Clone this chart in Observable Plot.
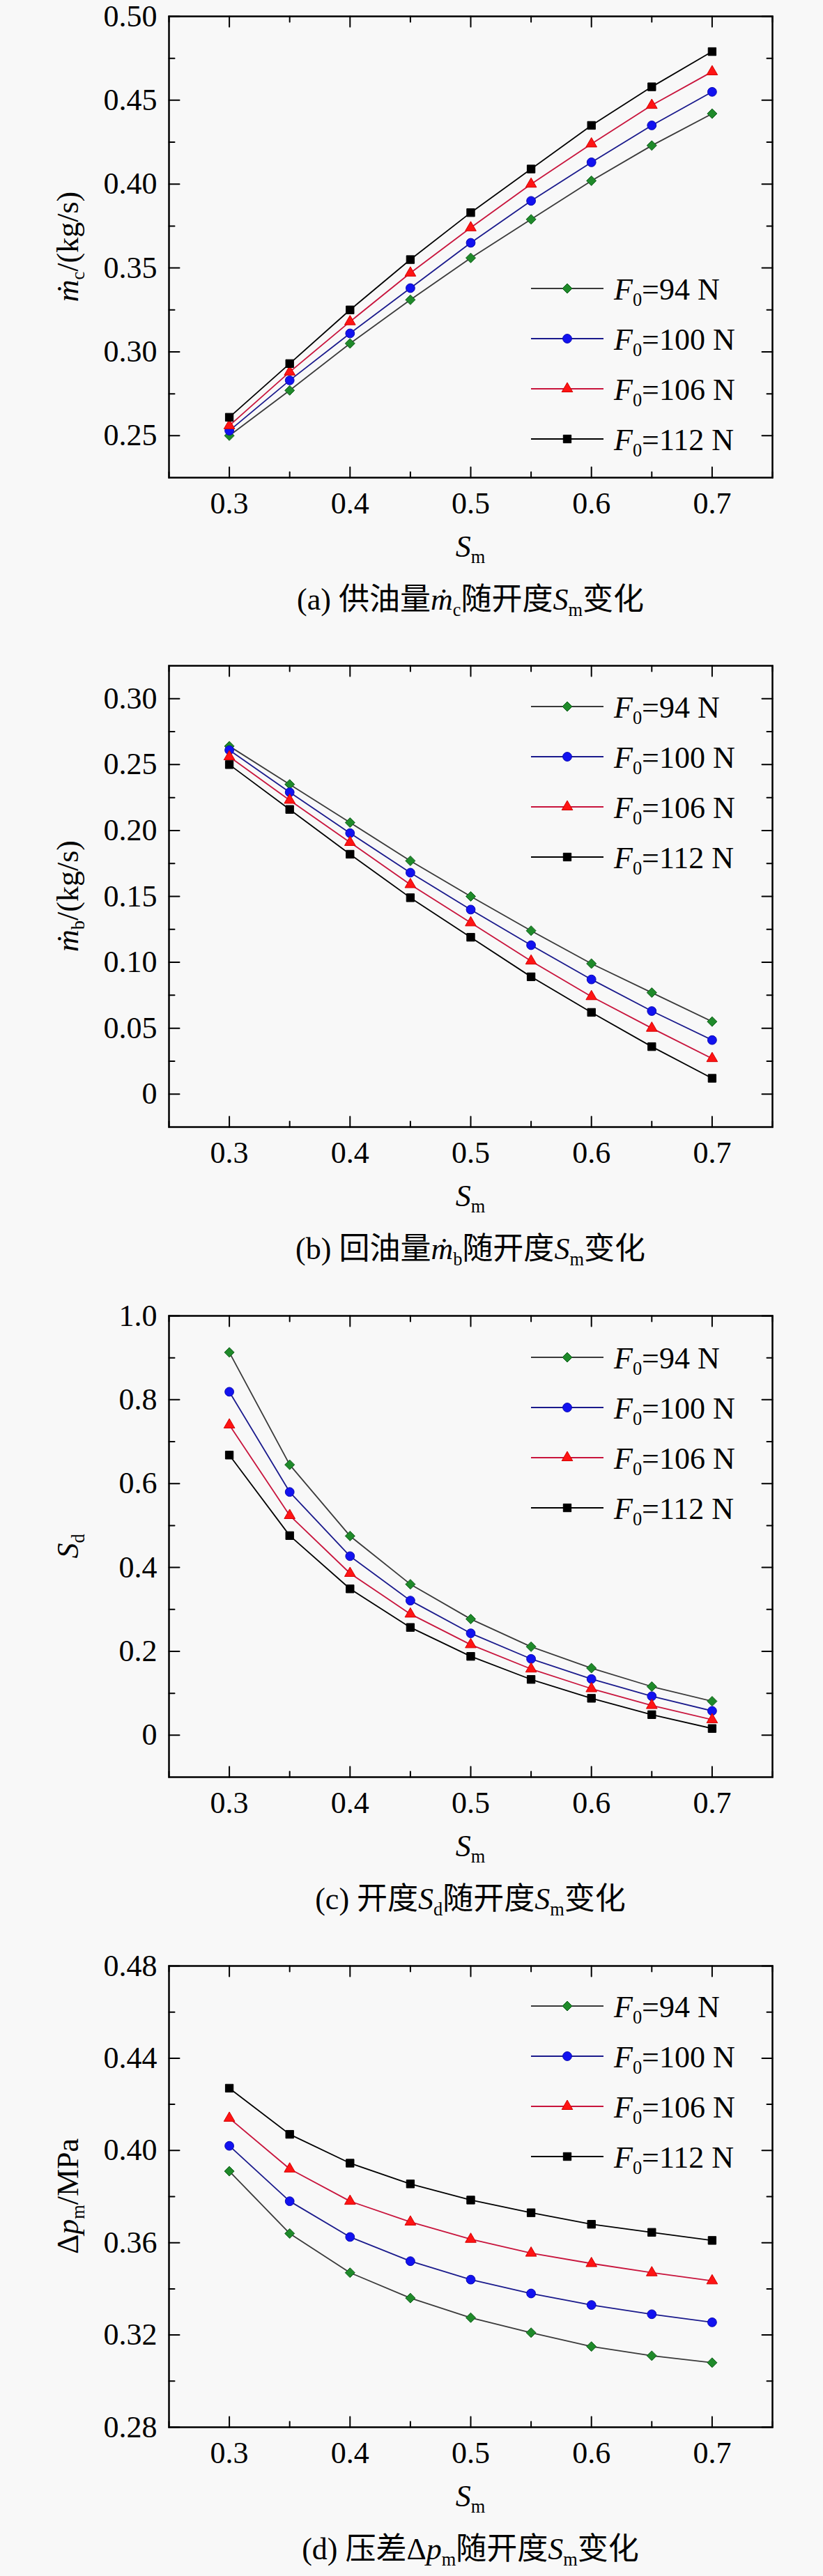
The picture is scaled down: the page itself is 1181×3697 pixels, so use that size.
<!DOCTYPE html>
<html>
<head>
<meta charset="utf-8">
<script src="https://cdn.jsdelivr.net/npm/d3@7"></script>
<script src="https://cdn.jsdelivr.net/npm/@observablehq/plot@0.6"></script>
<style>
  html, body { margin: 0; padding: 0; background: #f8f8f8; }
  svg { display: block; }
</style>
</head>
<body>
<div id="root"></div>
<script>
// ---------- data ----------
const sm = [0.3, 0.35, 0.4, 0.45, 0.5, 0.55, 0.6, 0.65, 0.7];
const forceLabels = ["94", "100", "106", "112"];

// (a) supply flow m_c (kg/s)
const mcF94  = [0.250, 0.277, 0.305, 0.331, 0.356, 0.379, 0.402, 0.423, 0.442];
const mcF100 = [0.253, 0.283, 0.311, 0.338, 0.365, 0.390, 0.413, 0.435, 0.455];
const mcF106 = [0.256, 0.288, 0.318, 0.347, 0.374, 0.400, 0.424, 0.447, 0.467];
const mcF112 = [0.261, 0.293, 0.325, 0.355, 0.383, 0.409, 0.435, 0.458, 0.479];

// (b) return flow m_b (kg/s)
const mbF94  = [0.264, 0.235, 0.206, 0.177, 0.150, 0.124, 0.099, 0.077, 0.055];
const mbF100 = [0.261, 0.229, 0.198, 0.168, 0.140, 0.113, 0.087, 0.063, 0.041];
const mbF106 = [0.256, 0.223, 0.191, 0.159, 0.130, 0.101, 0.074, 0.050, 0.027];
const mbF112 = [0.250, 0.216, 0.182, 0.149, 0.119, 0.089, 0.062, 0.036, 0.012];

// (c) opening S_d
const sdF94  = [0.913, 0.645, 0.475, 0.360, 0.277, 0.211, 0.160, 0.116, 0.081];
const sdF100 = [0.819, 0.580, 0.427, 0.321, 0.243, 0.182, 0.134, 0.093, 0.058];
const sdF106 = [0.740, 0.524, 0.386, 0.289, 0.216, 0.158, 0.111, 0.071, 0.037];
const sdF112 = [0.668, 0.476, 0.349, 0.257, 0.188, 0.133, 0.088, 0.049, 0.016];

// (d) pressure difference Δp_m (MPa)
const dpF94  = [0.391, 0.364, 0.347, 0.336, 0.3275, 0.321, 0.315, 0.311, 0.308];
const dpF100 = [0.402, 0.378, 0.3625, 0.352, 0.344, 0.338, 0.333, 0.329, 0.3255];
const dpF106 = [0.414, 0.392, 0.378, 0.369, 0.3615, 0.3555, 0.351, 0.347, 0.3435];
const dpF112 = [0.427, 0.407, 0.3945, 0.3855, 0.3785, 0.373, 0.368, 0.3645, 0.361];

// ticks
const xDomain = [0.25, 0.75];
const xTicks = [0.3, 0.4, 0.5, 0.6, 0.7];
const xTickLabels = ["0.3", "0.4", "0.5", "0.6", "0.7"];
const xMinor = [0.25, 0.35, 0.45, 0.55, 0.65, 0.75];

const aDomain = [0.225, 0.50];
const aTicks = [0.25, 0.30, 0.35, 0.40, 0.45, 0.50];
const aTickLabels = ["0.25", "0.30", "0.35", "0.40", "0.45", "0.50"];
const aMinor = [0.275, 0.325, 0.375, 0.425, 0.475];

const bDomain = [-0.025, 0.325];
const bTicks = [0, 0.05, 0.10, 0.15, 0.20, 0.25, 0.30];
const bTickLabels = ["0", "0.05", "0.10", "0.15", "0.20", "0.25", "0.30"];
const bMinor = [0.025, 0.075, 0.125, 0.175, 0.225, 0.275];

const cDomain = [-0.1, 1.0];
const cTicks = [0, 0.2, 0.4, 0.6, 0.8, 1.0];
const cTickLabels = ["0", "0.2", "0.4", "0.6", "0.8", "1.0"];
const cMinor = [0.1, 0.3, 0.5, 0.7, 0.9];

const dDomain = [0.28, 0.48];
const dTicks = [0.28, 0.32, 0.36, 0.40, 0.44, 0.48];
const dTickLabels = ["0.28", "0.32", "0.36", "0.40", "0.44", "0.48"];
const dMinor = [0.30, 0.34, 0.38, 0.42, 0.46];

// ---------- styles ----------
const lineColors   = ["#3a3a3a", "#1a1a8c", "#c8143c", "#000000"];
const markerFills  = ["#1f8a2a", "#1212f0", "#ff1414", "#000000"];
const markerStroke = ["#0f5c1a", "#0a0ab4", "#d40000", "#000000"];
const symbols      = ["diamond2", "circle", "triangle", "square"];
const symbolD3     = [d3.symbolDiamond2, d3.symbolCircle, d3.symbolTriangle, d3.symbolSquare];
const radii        = [6.3, 6.4, 5.8, 6.4];

const FONT = "'Liberation Serif','DejaVu Serif','Noto Sans CJK SC',serif";
const FS = 44;
const W = 1181, ML = 242, MR = 73, MT = 23, FH = 662;

const panels = [
  { height: 932, domain: aDomain, ticks: aTicks, labels: aTickLabels, minor: aMinor,
    series: [mcF94, mcF100, mcF106, mcF112], legendTop: 391,
    ylabel: [{t: "ṁ", i: 1}, {t: "c", sub: 1}, {t: "/(kg/s)"}],
    caption: [{t: "(a) 供油量"}, {t: "ṁ", i: 1}, {t: "c", sub: 1}, {t: "随开度"}, {t: "S", i: 1}, {t: "m", sub: 1}, {t: "变化"}] },
  { height: 933, domain: bDomain, ticks: bTicks, labels: bTickLabels, minor: bMinor,
    series: [mbF94, mbF100, mbF106, mbF112], legendTop: 59,
    ylabel: [{t: "ṁ", i: 1}, {t: "b", sub: 1}, {t: "/(kg/s)"}],
    caption: [{t: "(b) 回油量"}, {t: "ṁ", i: 1}, {t: "b", sub: 1}, {t: "随开度"}, {t: "S", i: 1}, {t: "m", sub: 1}, {t: "变化"}] },
  { height: 933, domain: cDomain, ticks: cTicks, labels: cTickLabels, minor: cMinor,
    series: [sdF94, sdF100, sdF106, sdF112], legendTop: 60,
    ylabel: [{t: "S", i: 1}, {t: "d", sub: 1}],
    caption: [{t: "(c) 开度"}, {t: "S", i: 1}, {t: "d", sub: 1}, {t: "随开度"}, {t: "S", i: 1}, {t: "m", sub: 1}, {t: "变化"}] },
  { height: 899, domain: dDomain, ticks: dTicks, labels: dTickLabels, minor: dMinor,
    series: [dpF94, dpF100, dpF106, dpF112], legendTop: 58,
    ylabel: [{t: "Δ"}, {t: "p", i: 1}, {t: "m", sub: 1}, {t: "/MPa"}],
    caption: [{t: "(d) 压差Δ"}, {t: "p", i: 1}, {t: "m", sub: 1}, {t: "随开度"}, {t: "S", i: 1}, {t: "m", sub: 1}, {t: "变化"}] }
];

const tickShape = { draw(ctx, l) { ctx.moveTo(0, 0); ctx.lineTo(0, -l); } };
function vt(data, opts) {
  return Plot.vector(data, { anchor: "start", shape: tickShape, stroke: "#000", strokeWidth: 2, ...opts });
}

function rich(sel, parts, size) {
  let shift = 0;
  parts.forEach(p => {
    const t = sel.append("tspan").text(p.t);
    if (p.i) t.attr("font-style", "italic");
    const want = p.sub ? size * 0.2 : 0;
    const dy = want - shift;
    if (dy) t.attr("dy", dy);
    shift = want;
    if (p.sub) t.attr("font-size", size * 0.6);
  });
}

const root = document.getElementById("root");

panels.forEach(P => {
  const [y0, y1] = P.domain;
  const [x0, x1] = xDomain;
  const marks = [];

  P.series.forEach((vals, k) => {
    const rows = sm.map((s, i) => ({ s, v: vals[i] }));
    marks.push(Plot.line(rows, { x: "s", y: "v", stroke: lineColors[k], strokeWidth: 1.8 }));
    marks.push(Plot.dot(rows, { x: "s", y: "v", symbol: symbols[k], r: radii[k],
      fill: markerFills[k], stroke: markerStroke[k], strokeWidth: 1 }));
  });

  // inward ticks on all four sides
  marks.push(vt(P.ticks, { x: () => x0, y: d => d, rotate: 90, length: 15 }));
  marks.push(vt(P.minor, { x: () => x0, y: d => d, rotate: 90, length: 8 }));
  marks.push(vt(P.ticks, { x: () => x1, y: d => d, rotate: -90, length: 15 }));
  marks.push(vt(P.minor, { x: () => x1, y: d => d, rotate: -90, length: 8 }));
  marks.push(vt(xTicks, { x: d => d, y: () => y0, rotate: 0, length: 15 }));
  marks.push(vt(xMinor, { x: d => d, y: () => y0, rotate: 0, length: 8 }));
  marks.push(vt(xTicks, { x: d => d, y: () => y1, rotate: 180, length: 15 }));
  marks.push(vt(xMinor, { x: d => d, y: () => y1, rotate: 180, length: 8 }));

  marks.push(Plot.axisY(P.ticks, { anchor: "left", tickSize: 0, tickPadding: 17, label: null,
    tickFormat: d => P.labels[P.ticks.indexOf(d)] }));
  marks.push(Plot.axisX(xTicks, { anchor: "bottom", tickSize: 0, tickPadding: 20, label: null,
    tickFormat: d => xTickLabels[xTicks.indexOf(d)] }));
  marks.push(Plot.frame({ stroke: "#000", strokeWidth: 2.5 }));

  const svgNode = Plot.plot({
    width: W, height: P.height,
    marginLeft: ML, marginRight: MR, marginTop: MT, marginBottom: P.height - MT - FH,
    x: { domain: xDomain, label: null },
    y: { domain: P.domain, label: null },
    style: { background: "#f8f8f8", fontFamily: FONT, fontSize: FS + "px", color: "#000", overflow: "visible" },
    marks
  });

  const svg = d3.select(svgNode);
  const left = ML, right = W - MR, top = MT, bottom = MT + FH;
  const cx = (left + right) / 2, cy = (top + bottom) / 2;
  const g = svg.append("g").attr("font-family", FONT).attr("font-size", FS).attr("fill", "#000");

  // y label
  const yl = g.append("text").attr("text-anchor", "middle")
    .attr("transform", `translate(112,${cy}) rotate(-90)`);
  rich(yl, P.ylabel, FS);

  // x label
  const xl = g.append("text").attr("text-anchor", "middle").attr("x", cx).attr("y", bottom + 114);
  rich(xl, [{ t: "S", i: 1 }, { t: "m", sub: 1 }], FS);

  // caption
  const cap = g.append("text").attr("text-anchor", "middle").attr("x", cx).attr("y", bottom + 190);
  rich(cap, P.caption, FS);

  // legend
  forceLabels.forEach((f, k) => {
    const ly = top + P.legendTop + k * 72;
    g.append("line").attr("x1", 762).attr("x2", 866).attr("y1", ly).attr("y2", ly)
      .attr("stroke", lineColors[k]).attr("stroke-width", 1.8);
    g.append("path").attr("transform", `translate(814,${ly})`)
      .attr("d", d3.symbol(symbolD3[k], Math.PI * radii[k] * radii[k])())
      .attr("fill", markerFills[k]).attr("stroke", markerStroke[k]).attr("stroke-width", 1);
    const lt = g.append("text").attr("text-anchor", "start").attr("x", 881).attr("y", ly + 16);
    rich(lt, [{ t: "F", i: 1 }, { t: "0", sub: 1 }, { t: "=" + f + " N" }], FS);
  });

  root.appendChild(svgNode);
});
</script>
</body>
</html>
